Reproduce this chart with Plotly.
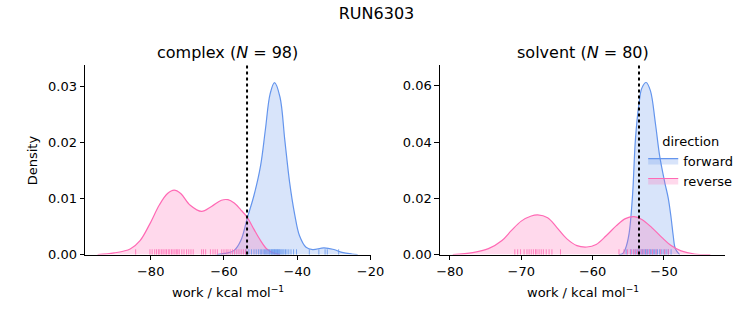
import plotly.graph_objects as go

# ---------------- data ----------------
# complex phase KDE curves
cx_fwd_x = [-62.0, -59.8, -57.2, -55.4, -53.6, -51.8, -50.0, -48.7, -47.4, -46.2, -44.7, -43.4, -42.1,
            -40.7, -39.4, -37.6, -35.8, -32.7, -30.0, -27.8, -25.1, -23.5]
cx_fwd_y = [0.0, 0.0002, 0.00075, 0.0025, 0.0066, 0.0106, 0.0159, 0.0223, 0.0287, 0.0307, 0.0281, 0.0205,
            0.0130, 0.0072, 0.0034, 0.0013, 0.0009, 0.0012, 0.0009, 0.0004, 0.0001, 0.0]
cx_rev_x = [-94.5, -90.0, -85.6, -82.9, -80.3, -77.6, -75.4, -73.6, -71.8, -69.2, -66.1, -63.4, -60.7,
            -58.9, -57.2, -55.4, -53.6, -51.8, -50.0, -48.3, -46.5, -44.7]
cx_rev_y = [0.0, 0.0003, 0.0010, 0.0025, 0.0054, 0.0089, 0.0109, 0.0115, 0.0109, 0.0088, 0.0077, 0.0086,
            0.0097, 0.0098, 0.0092, 0.0080, 0.0066, 0.0045, 0.0025, 0.0010, 0.0003, 0.0]

# solvent phase KDE curves
sv_fwd_x = [-56.3, -55.8, -55.4, -54.9, -54.4, -54.0, -53.5, -53.1, -52.5, -51.9, -51.2, -50.6, -49.9,
            -49.4, -49.0, -48.7, -48.4, -47.8]
sv_fwd_y = [0.0, 0.0003, 0.0021, 0.0073, 0.0212, 0.0409, 0.0537, 0.0592, 0.0612, 0.0583, 0.0467, 0.0351,
            0.0258, 0.0201, 0.0131, 0.0067, 0.0021, 0.0]
sv_rev_x = [-79.6, -76.8, -74.6, -72.7, -71.4, -70.0, -68.6, -67.7, -66.3, -65.0, -63.6, -62.2, -60.8,
            -59.5, -58.1, -56.7, -55.4, -54.2, -53.1, -51.7, -50.3, -49.0, -47.6, -45.7, -43.5]
sv_rev_y = [0.0, 0.0007, 0.0021, 0.0050, 0.0085, 0.0119, 0.0137, 0.0141, 0.0131, 0.0096, 0.0056, 0.0032,
            0.0027, 0.0036, 0.0067, 0.0102, 0.0128, 0.0135, 0.0125, 0.0096, 0.0061, 0.0032, 0.0013,
            0.0002, 0.0]

# rug samples
cx_fwd_rug = [-54.0, -53.2, -52.5, -51.8, -51.2, -50.6, -50.1, -49.7, -49.3, -48.9, -48.6, -48.3, -48.0,
              -47.7, -47.5, -47.2, -47.0, -46.8, -46.6, -46.4, -46.2, -46.0, -45.8, -45.6, -45.4, -45.2,
              -45.0, -44.8, -44.5, -44.2, -43.9, -43.6, -43.2, -42.8, -42.3, -41.7, -41.0, -40.2, -36.7,
              -34.1, -32.4, -31.8, -28.7]
cx_rev_rug = [-84.1, -80.2, -79.6, -78.9, -78.4, -77.9, -77.5, -77.0, -76.6, -76.1, -75.7, -75.2, -74.8,
              -74.3, -73.9, -73.4, -73.0, -72.6, -72.2, -71.5, -70.9, -70.2, -69.6, -69.0, -68.4, -66.1,
              -65.6, -65.0, -63.7, -63.0, -62.4, -61.8, -60.6, -60.0, -59.4, -58.9, -58.3, -57.7, -57.1,
              -56.5, -55.9, -55.3, -54.7, -54.1]
sv_fwd_rug = [-55.3, -54.6, -54.2, -53.9, -53.6, -53.4, -53.2, -53.0, -52.8, -52.6, -52.5, -52.3, -52.1,
              -51.9, -51.7, -51.5, -51.3, -51.1, -50.9, -50.6, -50.3, -50.0, -49.7, -49.4, -49.0]
sv_rev_rug = [-70.9, -70.5, -70.1, -69.6, -69.2, -68.9, -68.6, -68.3, -68.0, -67.8, -67.5, -67.2, -66.9,
              -66.5, -66.1, -65.7, -64.5, -56.3, -55.6, -55.1, -54.7, -54.3, -54.0, -53.7, -53.4, -53.1,
              -52.8, -52.4, -52.0, -51.6, -51.1, -50.5, -49.9, -49.4]

# free-energy reference lines
cx_dg = -53.7
sv_dg = -53.5

suptitle = "RUN6303"
panel_titles = ["complex (<i>N</i> = 98)", "solvent (<i>N</i> = 80)"]
xlabel = "work / kcal mol<sup>−1</sup>"
ylabel = "Density"
cx_xticks = [-80, -60, -40, -20]
sv_xticks = [-80, -70, -60, -50]
cx_yticks = [0.0, 0.01, 0.02, 0.03]
sv_yticks = [0.0, 0.02, 0.04, 0.06]

# ---------------- styling ----------------
BLUE = "#6495ED"
PINK = "#FF69B4"
BLUE_FILL = "rgba(100,149,237,0.25)"
PINK_FILL = "rgba(255,105,180,0.25)"
FONT = "DejaVu Sans"
TICK_PX = 13
TITLE_PX = 16

fig = go.Figure()

def add_curve(x, y, color, fill, name, xa, ya, show):
    fig.add_trace(go.Scatter(
        x=x, y=y, mode="lines", line=dict(color=color, width=1.2, shape="spline", smoothing=1.0),
        fill="tozeroy", fillcolor=fill, name=name, legendgroup=name, showlegend=show,
        xaxis=xa, yaxis=ya, hoverinfo="skip"))

add_curve(cx_fwd_x, cx_fwd_y, BLUE, BLUE_FILL, "forward", "x", "y", True)
add_curve(cx_rev_x, cx_rev_y, PINK, PINK_FILL, "reverse", "x", "y", True)
add_curve(sv_fwd_x, sv_fwd_y, BLUE, BLUE_FILL, "forward", "x2", "y2", False)
add_curve(sv_rev_x, sv_rev_y, PINK, PINK_FILL, "reverse", "x2", "y2", False)

shapes = []
def add_rug(vals, color, xref, yref):
    for v in vals:
        shapes.append(dict(type="line", xref=xref, yref=yref + " domain", x0=v, x1=v, y0=0, y1=0.028,
                           line=dict(color=color, width=1), opacity=0.8, layer="above"))

add_rug(cx_fwd_rug, BLUE, "x", "y")
add_rug(cx_rev_rug, PINK, "x", "y")
add_rug(sv_fwd_rug, BLUE, "x2", "y2")
add_rug(sv_rev_rug, PINK, "x2", "y2")

for v, xr, yr in [(cx_dg, "x", "y"), (sv_dg, "x2", "y2")]:
    shapes.append(dict(type="line", xref=xr, yref=yr + " domain", x0=v, x1=v, y0=0, y1=1,
                       line=dict(color="black", width=2, dash="dot"), layer="above"))

W, H = 753, 325
yd = [1 - 261 / H, 1 - 67 / H]
xd1 = [84 / W, 376 / W]
xd2 = [447 / W, 739 / W]

def fmt_neg(v):
    return ("−" + str(abs(v))) if v < 0 else str(v)

axis_common = dict(showline=True, linecolor="black", linewidth=1, ticks="outside", ticklen=4.5,
                   tickwidth=1, tickcolor="black", showgrid=False, zeroline=False,
                   tickfont=dict(family=FONT, size=TICK_PX, color="black"), mirror=False)

fig.update_layout(
    width=W, height=H, margin=dict(l=0, r=0, t=0, b=0),
    paper_bgcolor="white", plot_bgcolor="white",
    font=dict(family=FONT, size=TICK_PX, color="black"),
    title=dict(text=suptitle, x=0.5, xanchor="center", y=1 - 13 / H, yanchor="middle",
               yref="container", font=dict(family=FONT, size=TITLE_PX, color="black")),
    xaxis=dict(domain=xd1, range=[-97.9, -20], tickvals=cx_xticks,
               ticktext=[fmt_neg(v) for v in cx_xticks], anchor="y", **axis_common),
    yaxis=dict(domain=yd, range=[0, 0.0338], tickvals=cx_yticks,
               ticktext=["%.2f" % v for v in cx_yticks], anchor="x", **axis_common),
    xaxis2=dict(domain=xd2, range=[-81.4, -41.4], tickvals=sv_xticks,
                ticktext=[fmt_neg(v) for v in sv_xticks], anchor="y2", **axis_common),
    yaxis2=dict(domain=yd, range=[0, 0.0673], tickvals=sv_yticks,
                ticktext=["%.2f" % v for v in sv_yticks], anchor="x2", **axis_common),
    shapes=shapes,
    legend=dict(x=655 / W, y=1 - 132 / H, xanchor="left", yanchor="top",
                bgcolor="rgba(0,0,0,0)", borderwidth=0, itemwidth=30,
                title=dict(text="direction", side="top center",
                           font=dict(family=FONT, size=TICK_PX, color="black")),
                font=dict(family=FONT, size=TICK_PX, color="black"),
                tracegroupgap=0),
    showlegend=True,
)

ann = []
for t, cx in zip(panel_titles, [(xd1[0] + xd1[1]) / 2, (xd2[0] + xd2[1]) / 2]):
    ann.append(dict(text=t, x=cx, y=1 - 54 / H, xref="paper", yref="paper", showarrow=False,
                    xanchor="center", yanchor="middle", font=dict(family=FONT, size=TITLE_PX, color="black")))
for cx in [(xd1[0] + xd1[1]) / 2, (xd2[0] + xd2[1]) / 2]:
    ann.append(dict(text=xlabel, x=cx, y=1 - 299 / H, xref="paper", yref="paper", showarrow=False,
                    xanchor="center", yanchor="middle", font=dict(family=FONT, size=TICK_PX, color="black")))
ann.append(dict(text=ylabel, x=31 / W, y=(yd[0] + yd[1]) / 2, xref="paper", yref="paper", showarrow=False,
                textangle=-90, xanchor="center", yanchor="middle",
                font=dict(family=FONT, size=TICK_PX, color="black")))
fig.update_layout(annotations=ann)

fig.write_html("out.html")
